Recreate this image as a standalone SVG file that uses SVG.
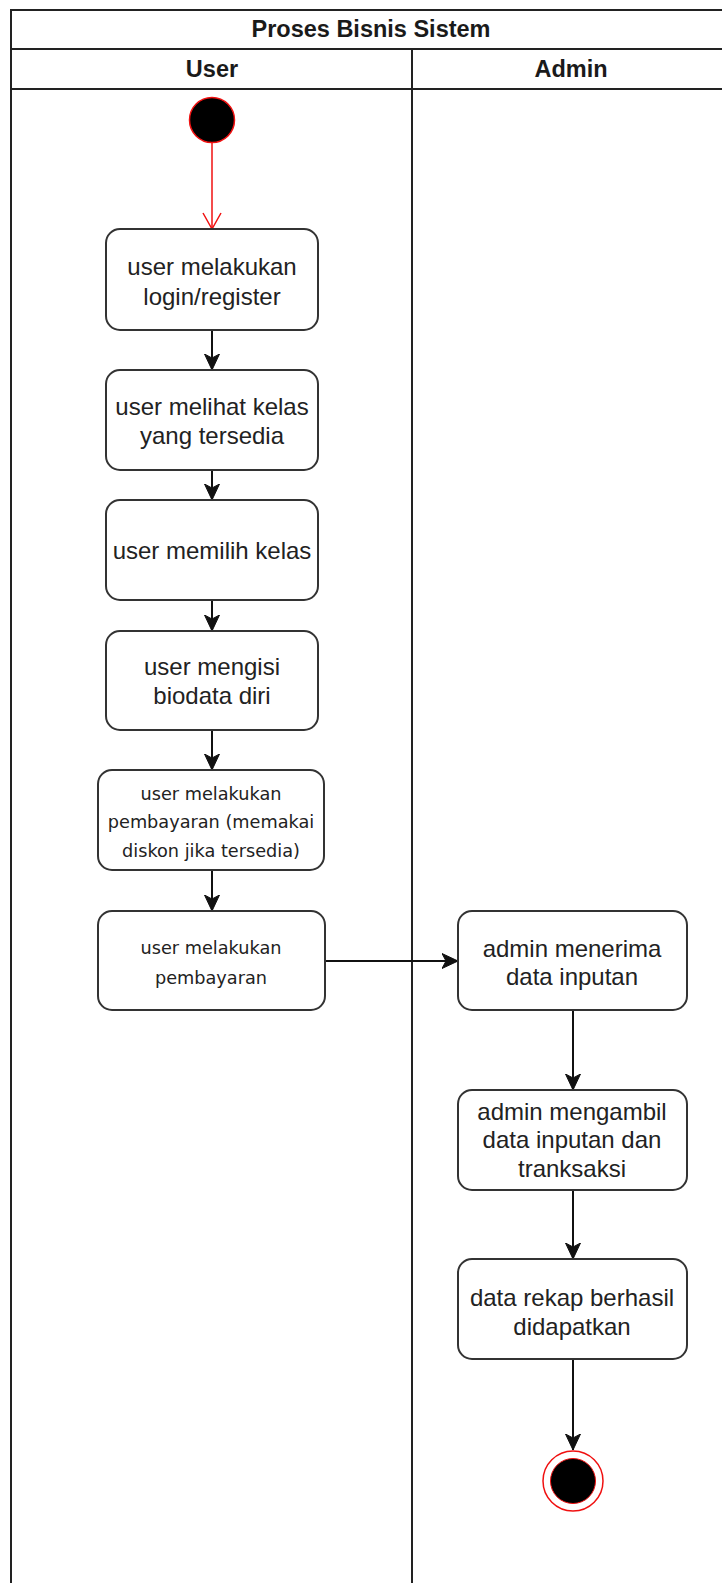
<svg xmlns="http://www.w3.org/2000/svg" width="722" height="1583" viewBox="0 0 722 1583">
  <style>
    .frame { fill: none; stroke: #222; stroke-width: 2; }
    .box { fill: #fff; stroke: #333; stroke-width: 2; }
    .hdr { font-family: "Liberation Sans", Arial, sans-serif; font-weight: bold; font-size: 23.5px; fill: #1a1a1a; text-anchor: middle; }
    .t { font-family: "Liberation Sans", Arial, sans-serif; font-size: 24px; fill: #222; text-anchor: middle; }
    .ts { font-family: "DejaVu Sans", Verdana, sans-serif; font-size: 17.7px; fill: #222; text-anchor: middle; }
    .edge { fill: none; stroke: #111; stroke-width: 2; }
    .edge-red { fill: none; stroke: #f01010; stroke-width: 1.5; }
  </style>
  <defs>
    <marker id="arr" markerUnits="userSpaceOnUse" markerWidth="20" markerHeight="20" refX="16" refY="8" orient="auto">
      <path d="M0,0.5 L16,8 L0,15.5 L4,8 Z" fill="#111" stroke="#111" stroke-width="1"/>
    </marker>
    <marker id="open" markerUnits="userSpaceOnUse" markerWidth="22" markerHeight="22" refX="17" refY="10" orient="auto">
      <path d="M1,1 L17,10 L1,19" fill="none" stroke="#f01010" stroke-width="1.5"/>
    </marker>
  </defs>
  <rect width="722" height="1583" fill="#fff"/>

  <g id="pool">
    <rect class="frame" x="11" y="10" width="720" height="1600"/>
    <line class="frame" x1="11" y1="49" x2="731" y2="49"/>
    <line class="frame" x1="11" y1="89" x2="731" y2="89"/>
    <line class="frame" x1="412" y1="49" x2="412" y2="1600"/>
    <text class="hdr" x="371" y="37">Proses Bisnis Sistem</text>
    <text class="hdr" x="212" y="77">User</text>
    <text class="hdr" x="571" y="77">Admin</text>
  </g>

  <g id="connectors">
    <line class="edge-red" x1="212" y1="143" x2="212" y2="229" marker-end="url(#open)"/>
    <line class="edge" x1="212" y1="330" x2="212" y2="370" marker-end="url(#arr)"/>
    <line class="edge" x1="212" y1="470" x2="212" y2="500" marker-end="url(#arr)"/>
    <line class="edge" x1="212" y1="600" x2="212" y2="631" marker-end="url(#arr)"/>
    <line class="edge" x1="212" y1="730" x2="212" y2="770" marker-end="url(#arr)"/>
    <line class="edge" x1="212" y1="870" x2="212" y2="911" marker-end="url(#arr)"/>
    <line class="edge" x1="325" y1="961" x2="458" y2="961" marker-end="url(#arr)"/>
    <line class="edge" x1="573" y1="1010" x2="573" y2="1090" marker-end="url(#arr)"/>
    <line class="edge" x1="573" y1="1190" x2="573" y2="1259" marker-end="url(#arr)"/>
    <line class="edge" x1="573" y1="1359" x2="573" y2="1450" marker-end="url(#arr)"/>
  </g>

  <g id="start">
    <circle cx="212" cy="120" r="22.5" fill="#000" stroke="#f01010" stroke-width="1.5"/>
  </g>

  <g id="n1">
    <rect class="box" x="106" y="229" width="212" height="101" rx="14"/>
    <text class="t" x="212" y="275">user melakukan</text>
    <text class="t" x="212" y="305">login/register</text>
  </g>
  <g id="n2">
    <rect class="box" x="106" y="370" width="212" height="100" rx="14"/>
    <text class="t" x="212" y="415">user melihat kelas</text>
    <text class="t" x="212" y="444">yang tersedia</text>
  </g>
  <g id="n3">
    <rect class="box" x="106" y="500" width="212" height="100" rx="14"/>
    <text class="t" x="212" y="559">user memilih kelas</text>
  </g>
  <g id="n4">
    <rect class="box" x="106" y="631" width="212" height="99" rx="14"/>
    <text class="t" x="212" y="675">user mengisi</text>
    <text class="t" x="212" y="704">biodata diri</text>
  </g>
  <g id="n5">
    <rect class="box" x="98" y="770" width="226" height="100" rx="14"/>
    <text class="ts" x="211" y="800">user melakukan</text>
    <text class="ts" x="211" y="828">pembayaran (memakai</text>
    <text class="ts" x="211" y="857">diskon jika tersedia)</text>
  </g>
  <g id="n6">
    <rect class="box" x="98" y="911" width="227" height="99" rx="14"/>
    <text class="ts" x="211" y="954">user melakukan</text>
    <text class="ts" x="211" y="984">pembayaran</text>
  </g>
  <g id="a1">
    <rect class="box" x="458" y="911" width="229" height="99" rx="14"/>
    <text class="t" x="572" y="957">admin menerima</text>
    <text class="t" x="572" y="985">data inputan</text>
  </g>
  <g id="a2">
    <rect class="box" x="458" y="1090" width="229" height="100" rx="14"/>
    <text class="t" x="572" y="1120">admin mengambil</text>
    <text class="t" x="572" y="1148">data inputan dan</text>
    <text class="t" x="572" y="1177">tranksaksi</text>
  </g>
  <g id="a3">
    <rect class="box" x="458" y="1259" width="229" height="100" rx="14"/>
    <text class="t" x="572" y="1306">data rekap berhasil</text>
    <text class="t" x="572" y="1335">didapatkan</text>
  </g>

  <g id="end">
    <circle cx="573" cy="1481" r="30" fill="#fff" stroke="#f01010" stroke-width="1.5"/>
    <circle cx="573" cy="1481" r="22.5" fill="#000" stroke="#f01010" stroke-width="1"/>
  </g>
</svg>
